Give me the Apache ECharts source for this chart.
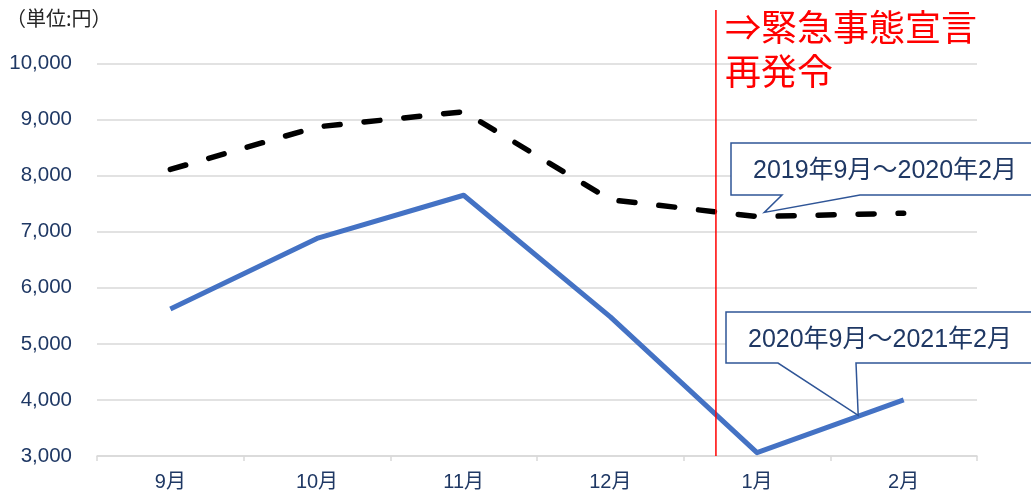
<!DOCTYPE html>
<html>
<head>
<meta charset="utf-8">
<script src="https://cdn.jsdelivr.net/npm/echarts@6/dist/echarts.min.js"></script>
<style>
  html, body { margin: 0; padding: 0; background: #fff; }
  #chart { width: 1031px; height: 498px; }
</style>
</head>
<body>
<div id="chart"></div>
<script>
// Monthly amounts (円)
const categories = ['9月', '10月', '11月', '12月', '1月', '2月'];
const current = [5620, 6880, 7650, 5480, 3060, 4000];   // 2020年9月～2021年2月
const previous = [8110, 8870, 9140, 7570, 7270, 7330];  // 2019年9月～2020年2月
const yMin = 3000, yMax = 10000, yStep = 1000;
const currentLabel = '2020年9月～2021年2月';
const previousLabel = '2019年9月～2020年2月';
const unitLabel = '（単位:円）';
const eventLabel = ['⇒緊急事態宣言', '再発令'];
const eventPos = 3.72;      // between 12月 and 1月, as a category index

const navy = '#1F3864';
const fontFamily = '"Liberation Sans", "Noto Sans CJK JP", sans-serif';
const cjkFamily = '"Noto Sans CJK JP", "Liberation Sans", sans-serif';

const chart = echarts.init(document.getElementById('chart'));

chart.setOption({
  animation: false,
  textStyle: { fontFamily },
  grid: { left: 97, right: 54, top: 63.5, bottom: 42 },
  xAxis: {
    type: 'category',
    data: categories,
    boundaryGap: true,
    axisLine: { lineStyle: { color: '#d9d9d9', width: 1.5 } },
    axisTick: { show: true, length: 5, lineStyle: { color: '#d9d9d9', width: 1.5 } },
    axisLabel: { color: navy, fontSize: 20, margin: 16, fontFamily }
  },
  yAxis: {
    type: 'value',
    min: yMin, max: yMax, interval: yStep,
    axisLine: { show: false },
    axisTick: { show: false },
    splitLine: { lineStyle: { color: '#d9d9d9', width: 1.5 } },
    axisLabel: {
      color: navy, fontSize: 20.5, margin: 25, fontFamily,
      formatter: v => v.toLocaleString('en-US')
    }
  },
  series: [
    {
      name: previousLabel,
      type: 'line',
      data: previous,
      symbol: 'none',
      lineStyle: { color: '#000', width: 5.5, type: [16, 24], cap: 'round', join: 'round' },
      z: 3
    },
    {
      name: currentLabel,
      type: 'line',
      data: current,
      symbol: 'none',
      lineStyle: { color: '#4472C4', width: 5, join: 'round' },
      z: 4
    }
  ]
});

// Pixel position of a fractional category index on a series
function pointOn(values, idx) {
  const i = Math.floor(idx), f = idx - i;
  const j = Math.min(i + 1, values.length - 1);
  const v = values[i] + (values[j] - values[i]) * f;
  const p0 = chart.convertToPixel({ gridIndex: 0 }, [i, v]);
  const p1 = chart.convertToPixel({ gridIndex: 0 }, [j, v]);
  return [p0[0] + (p1[0] - p0[0]) * f, p0[1]];
}

function callout(box, baseA, baseB, tip, text, textPos) {
  const [x0, y0, x1, y1] = box;
  return [
    {
      type: 'polygon',
      z: 20,
      shape: {
        points: [[x0, y0], [x1, y0], [x1, y1], [baseB, y1], tip, [baseA, y1], [x0, y1]]
      },
      style: { fill: '#fff', stroke: '#2F5597', lineWidth: 1.5 }
    },
    {
      type: 'text',
      z: 21,
      x: textPos[0], y: textPos[1],
      style: {
        text, fill: navy, font: '25px ' + fontFamily,
        align: 'center', verticalAlign: 'middle'
      }
    }
  ];
}

const eventX = pointOn(current, eventPos)[0];
const axisY = chart.convertToPixel({ yAxisIndex: 0 }, yMin);
const tipPrev = pointOn(previous, 4.05);
const tipCur = pointOn(current, 4.69);

chart.setOption({
  graphic: [
    {
      type: 'text', x: 6, y: 18, z: 10,
      style: { text: unitLabel, fill: '#262626', font: '20px ' + cjkFamily, verticalAlign: 'middle' }
    },
    {
      type: 'line', z: 10,
      shape: { x1: eventX, y1: 10, x2: eventX, y2: axisY },
      style: { stroke: '#ff0000', lineWidth: 1.5 }
    },
    {
      type: 'text', x: 725, y: 27, z: 10,
      style: { text: eventLabel[0], fill: '#ff0000', font: '36px ' + cjkFamily, verticalAlign: 'middle' }
    },
    {
      type: 'text', x: 725, y: 71, z: 10,
      style: { text: eventLabel[1], fill: '#ff0000', font: '36px ' + cjkFamily, verticalAlign: 'middle' }
    },
    ...callout([731, 143, 1033, 195], 782, 860, [tipPrev[0], tipPrev[1] - 4], previousLabel, [885, 171]),
    ...callout([726, 312, 1033, 363], 778, 856, [tipCur[0], tipCur[1] - 1], currentLabel, [880, 340])
  ]
});
</script>
</body>
</html>
